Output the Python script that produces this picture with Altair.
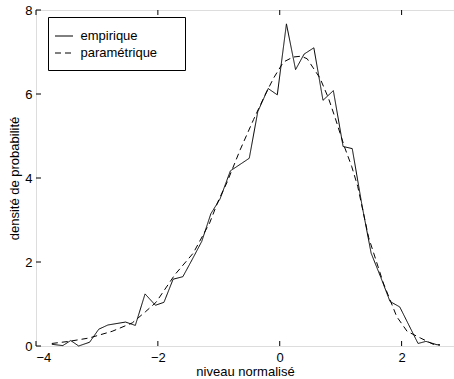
import altair as alt
import pandas as pd

# empirical density (solid)
emp_x = [-3.74, -3.56, -3.43, -3.30, -3.12, -2.97, -2.82, -2.53, -2.37, -2.21,
         -2.04, -1.90, -1.75, -1.59, -1.44, -1.28, -1.13, -0.98, -0.81, -0.50,
         -0.36, -0.19, -0.04, 0.11, 0.26, 0.40, 0.56, 0.71, 0.88, 1.04,
         1.19, 1.35, 1.50, 1.66, 1.81, 1.97, 2.27, 2.40, 2.58, 2.63]
emp_y = [0.04, 0.01, 0.13, 0.00, 0.09, 0.40, 0.50, 0.57, 0.49, 1.24,
         0.97, 1.04, 1.59, 1.65, 2.05, 2.49, 3.15, 3.50, 4.17, 4.47,
         5.58, 6.13, 5.98, 7.67, 6.58, 6.95, 7.10, 5.85, 6.08, 4.75,
         4.70, 3.35, 2.21, 1.63, 1.06, 0.93, 0.06, 0.11, 0.03, 0.03]

# parametric density (dashed)
par_x = [-3.74, -3.46, -3.13, -2.75, -2.42, -2.20, -2.03, -1.72, -1.42, -1.15,
         -1.01, -0.87, -0.65, -0.43, -0.24, -0.10, 0.06, 0.22, 0.35, 0.45,
         0.55, 0.66, 0.80, 0.91, 1.06, 1.18, 1.28, 1.46, 1.70, 1.92,
         2.09, 2.31, 2.52, 2.63]
par_y = [0.06, 0.11, 0.19, 0.35, 0.55, 0.82, 1.04, 1.70, 2.21, 2.93,
         3.45, 3.88, 4.67, 5.39, 5.98, 6.38, 6.76, 6.88, 6.90, 6.84,
         6.62, 6.38, 5.90, 5.43, 4.75, 4.28, 3.80, 2.58, 1.50, 0.70,
         0.35, 0.19, 0.04, 0.02]

series = ["empirique", "paramétrique"]
x_ticks = [-4, -2, 0, 2]
y_ticks = [0, 2, 4, 6, 8]

FONT = "Liberation Sans"
W, H = 418, 336

df = pd.concat([
    pd.DataFrame({"x": emp_x, "y": emp_y, "s": series[0]}),
    pd.DataFrame({"x": par_x, "y": par_y, "s": series[1]}),
])

xscale = alt.Scale(domain=[-4, 2.86], nice=False, zero=False)
yscale = alt.Scale(domain=[0, 8], nice=False, zero=False)

xaxis = alt.Axis(values=x_ticks, format="d", tickSize=0, labelPadding=5, domain=False, grid=False,
                 labelFont=FONT, labelFontSize=13, labelColor="black",
                 title="niveau normalisé", titleFont=FONT, titleFontSize=13,
                 titleFontWeight="normal", titleColor="black", titlePadding=1)
yaxis = alt.Axis(values=y_ticks, format="d", tickSize=0, labelPadding=4, domain=False, grid=False,
                 labelFont=FONT, labelFontSize=13, labelColor="black",
                 title="densité de probabilité", titleFont=FONT, titleFontSize=13,
                 titleFontWeight="normal", titleColor="black", titlePadding=3)

# trailing non-breaking spaces widen the legend box (zero-width space keeps them from being trimmed)
pad = "\u00a0" * 5 + "\u200b"

lines = alt.Chart(df).mark_line(color="black", strokeWidth=1).encode(
    x=alt.X("x:Q", scale=xscale, axis=xaxis),
    y=alt.Y("y:Q", scale=yscale, axis=yaxis),
    strokeDash=alt.StrokeDash(
        "s:N",
        scale=alt.Scale(domain=series, range=[[1, 0], [6, 4]]),
        legend=alt.Legend(
            title=None, orient="none", legendX=12, legendY=7, padding=9.5,
            strokeColor="black", fillColor="white",
            symbolType="stroke", symbolSize=324, symbolStrokeWidth=1,
            symbolStrokeColor="black", symbolOffset=-3,
            labelFont=FONT, labelFontSize=13, labelColor="black", labelOffset=7,
            rowPadding=0,
            labelExpr="datum.label + '" + pad + "'",
        ),
    ),
)

xt = pd.DataFrame({"x": x_ticks})
yt = pd.DataFrame({"y": y_ticks})

bottom_ticks = alt.Chart(xt).mark_rule(color="black", strokeWidth=1).encode(
    x=alt.X("x:Q", scale=xscale), y=alt.value(H), y2=alt.value(H - 5))
top_ticks = alt.Chart(xt).mark_rule(color="black", strokeWidth=1).encode(
    x=alt.X("x:Q", scale=xscale), y=alt.value(0), y2=alt.value(5))
left_ticks = alt.Chart(yt).mark_rule(color="black", strokeWidth=1).encode(
    y=alt.Y("y:Q", scale=yscale), x=alt.value(0), x2=alt.value(5))

chart = alt.layer(lines, bottom_ticks, top_ticks, left_ticks).properties(
    width=W, height=H,
    padding={"left": 36, "top": 10, "right": 0, "bottom": 33},
    autosize=alt.AutoSizeParams(type="none"),
).configure_view(stroke="black", strokeWidth=1).configure(background="white")

chart.save("out.html", embed_options={"renderer": "svg", "actions": False})
